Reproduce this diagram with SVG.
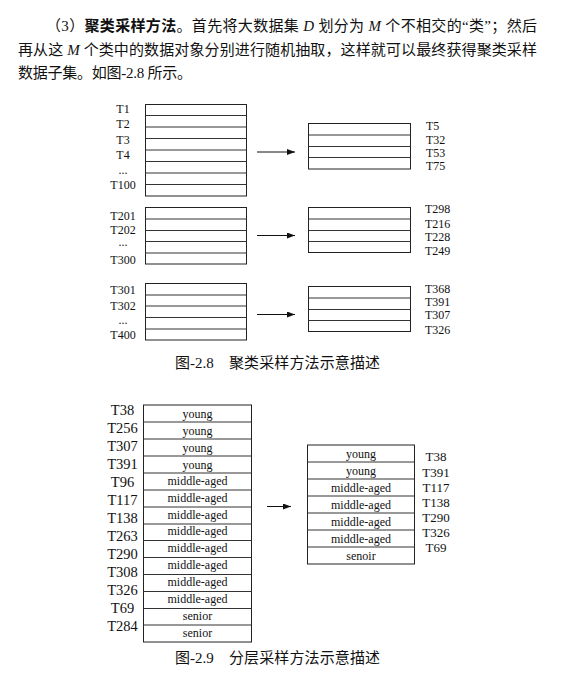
<svg xmlns="http://www.w3.org/2000/svg" width="572" height="681" viewBox="0 0 572 681">
<style>
.bg{fill:#fff}
.p{font-family:"Liberation Serif","Noto Sans CJK SC",serif;font-size:15px;fill:#111}
.b{font-weight:bold}
.i{font-style:italic}
.cap{font-family:"Liberation Serif","Noto Sans CJK SC",serif;font-size:15px;fill:#111}
.lb{font-family:"Liberation Serif",serif;font-size:12px;fill:#111}
.lc{text-anchor:middle}
.lg{font-family:"Liberation Serif",serif;font-size:14.5px;fill:#111;text-anchor:middle}
.lr{font-family:"Liberation Serif",serif;font-size:13px;fill:#111;text-anchor:middle}
.cell{font-family:"Liberation Serif",serif;font-size:12px;fill:#111;text-anchor:middle}
.tb{fill:none;stroke:#222;stroke-width:1}
.ln{fill:none;stroke:#333;stroke-width:1}
.ar{fill:none;stroke:#111;stroke-width:1}
</style>
<defs>
<marker id="ah" viewBox="0 0 8 6" refX="8" refY="3" markerWidth="8" markerHeight="6" markerUnits="userSpaceOnUse" orient="auto">
<path d="M0,0 L8,3 L0,6 Z" fill="#111"/>
</marker>
</defs>
<rect class="bg" x="0" y="0" width="572" height="681"/>

<g id="paragraph">
<text class="p" x="46" y="31" textLength="491" lengthAdjust="spacing">（3）<tspan class="b">聚类采样方法</tspan>。首先将大数据集 <tspan class="i">D</tspan> 划分为 <tspan class="i">M</tspan> 个不相交的“类”；然后</text>
<text class="p" x="18" y="55" textLength="519" lengthAdjust="spacing">再从这 <tspan class="i">M</tspan> 个类中的数据对象分别进行随机抽取，这样就可以最终获得聚类采样</text>
<text class="p" x="18" y="78" textLength="174" lengthAdjust="spacing">数据子集。如图-2.8 所示。</text>
</g>

<!-- Figure 2.8 -->
<g id="cluster1-source">
<rect class="tb" x="145.5" y="104.5" width="101" height="91.5"/>
<path class="ln" d="M145.5,115.5H246.5M145.5,127H246.5M145.5,138.5H246.5M145.5,150H246.5M145.5,161.5H246.5M145.5,173H246.5M145.5,184.5H246.5"/>
<text class="lb lc" x="123" y="112.5">T1</text>
<text class="lb lc" x="123" y="128">T2</text>
<text class="lb lc" x="123" y="143.5">T3</text>
<text class="lb lc" x="123" y="159">T4</text>
<text class="lb lc" x="123" y="174">...</text>
<text class="lb lc" x="123" y="189">T100</text>
</g>
<g id="cluster1-sample">
<rect class="tb" x="308.5" y="123.5" width="102" height="45.5"/>
<path class="ln" d="M308.5,135H410.5M308.5,146.5H410.5M308.5,157.5H410.5"/>
<text class="lb" x="426" y="129.5">T5</text>
<text class="lb" x="426" y="143.5">T32</text>
<text class="lb" x="426" y="157">T53</text>
<text class="lb" x="426" y="170">T75</text>
</g>

<g id="cluster2-source">
<rect class="tb" x="145.5" y="207.5" width="101" height="56.5"/>
<path class="ln" d="M145.5,219H246.5M145.5,230.5H246.5M145.5,241.5H246.5M145.5,253H246.5"/>
<text class="lb lc" x="123" y="219.5">T201</text>
<text class="lb lc" x="123" y="233.5">T202</text>
<text class="lb lc" x="123" y="246">...</text>
<text class="lb lc" x="123" y="263.5">T300</text>
</g>
<g id="cluster2-sample">
<rect class="tb" x="308.5" y="207.5" width="102" height="45"/>
<path class="ln" d="M308.5,219H410.5M308.5,230.5H410.5M308.5,241.5H410.5"/>
<text class="lb" x="425" y="213">T298</text>
<text class="lb" x="425" y="228">T216</text>
<text class="lb" x="425" y="241">T228</text>
<text class="lb" x="425" y="254.5">T249</text>
</g>

<g id="cluster3-source">
<rect class="tb" x="145.5" y="283.5" width="101" height="56.5"/>
<path class="ln" d="M145.5,295H246.5M145.5,306H246.5M145.5,317.5H246.5M145.5,329H246.5"/>
<text class="lb lc" x="123" y="294">T301</text>
<text class="lb lc" x="123" y="309.5">T302</text>
<text class="lb lc" x="123" y="323.5">...</text>
<text class="lb lc" x="123" y="339">T400</text>
</g>
<g id="cluster3-sample">
<rect class="tb" x="308.5" y="286.5" width="102" height="45"/>
<path class="ln" d="M308.5,298H410.5M308.5,309.5H410.5M308.5,320.5H410.5"/>
<text class="lb" x="425" y="292.5">T368</text>
<text class="lb" x="425" y="306">T391</text>
<text class="lb" x="425" y="319">T307</text>
<text class="lb" x="425" y="334">T326</text>
</g>

<g id="caption-2-8">
<text class="cap" x="175" y="368">图-2.8</text>
<text class="cap" x="229" y="368" textLength="151" lengthAdjust="spacing">聚类采样方法示意描述</text>
</g>

<!-- Figure 2.9 -->
<g id="strata-source">
<rect class="tb" x="143.5" y="405" width="108" height="237"/>
<path class="ln" d="M143.5,422H251.5M143.5,439H251.5M143.5,456H251.5M143.5,473H251.5M143.5,490H251.5M143.5,507H251.5M143.5,524H251.5M143.5,540.5H251.5M143.5,557.5H251.5M143.5,574.5H251.5M143.5,591.5H251.5M143.5,608.5H251.5M143.5,625H251.5"/>
<text class="cell" x="197.5" y="417.5">young</text>
<text class="cell" x="197.5" y="434.5">young</text>
<text class="cell" x="197.5" y="451.5">young</text>
<text class="cell" x="197.5" y="468.5">young</text>
<text class="cell" x="197.5" y="484.5">middle-aged</text>
<text class="cell" x="197.5" y="501.5">middle-aged</text>
<text class="cell" x="197.5" y="518.5">middle-aged</text>
<text class="cell" x="197.5" y="535">middle-aged</text>
<text class="cell" x="197.5" y="552">middle-aged</text>
<text class="cell" x="197.5" y="569">middle-aged</text>
<text class="cell" x="197.5" y="586">middle-aged</text>
<text class="cell" x="197.5" y="603">middle-aged</text>
<text class="cell" x="197.5" y="620">senior</text>
<text class="cell" x="197.5" y="637">senior</text>
<text class="lg" x="122.5" y="415.3">T38</text>
<text class="lg" x="122.5" y="433.2">T256</text>
<text class="lg" x="122.5" y="451.2">T307</text>
<text class="lg" x="122.5" y="469.1">T391</text>
<text class="lg" x="122.5" y="487.1">T96</text>
<text class="lg" x="122.5" y="505">T117</text>
<text class="lg" x="122.5" y="523">T138</text>
<text class="lg" x="122.5" y="541">T263</text>
<text class="lg" x="122.5" y="558.9">T290</text>
<text class="lg" x="122.5" y="576.9">T308</text>
<text class="lg" x="122.5" y="594.8">T326</text>
<text class="lg" x="122.5" y="612.8">T69</text>
<text class="lg" x="122.5" y="630.7">T284</text>
</g>

<g id="strata-sample">
<rect class="tb" x="307.5" y="445" width="107" height="119"/>
<path class="ln" d="M307.5,462H414.5M307.5,479H414.5M307.5,496H414.5M307.5,513H414.5M307.5,530H414.5M307.5,547H414.5"/>
<text class="cell" x="361" y="457.5">young</text>
<text class="cell" x="361" y="474.5">young</text>
<text class="cell" x="361" y="491.5">middle-aged</text>
<text class="cell" x="361" y="508.5">middle-aged</text>
<text class="cell" x="361" y="525.5">middle-aged</text>
<text class="cell" x="361" y="542.5">middle-aged</text>
<text class="cell" x="361" y="559.5">senoir</text>
<text class="lr" x="436" y="460.7">T38</text>
<text class="lr" x="436" y="477.3">T391</text>
<text class="lr" x="436" y="492.3">T117</text>
<text class="lr" x="436" y="506.7">T138</text>
<text class="lr" x="436" y="521.7">T290</text>
<text class="lr" x="436" y="536.7">T326</text>
<text class="lr" x="436" y="551.7">T69</text>
</g>

<g id="caption-2-9">
<text class="cap" x="175" y="663">图-2.9</text>
<text class="cap" x="229" y="663" textLength="151" lengthAdjust="spacing">分层采样方法示意描述</text>
</g>

<g id="connectors">
<line class="ar" x1="257" y1="152" x2="295" y2="152" marker-end="url(#ah)"/>
<line class="ar" x1="257" y1="235.5" x2="295" y2="235.5" marker-end="url(#ah)"/>
<line class="ar" x1="257" y1="314.5" x2="295" y2="314.5" marker-end="url(#ah)"/>
<line class="ar" x1="267" y1="506.5" x2="291" y2="506.5" marker-end="url(#ah)"/>
</g>
</svg>
